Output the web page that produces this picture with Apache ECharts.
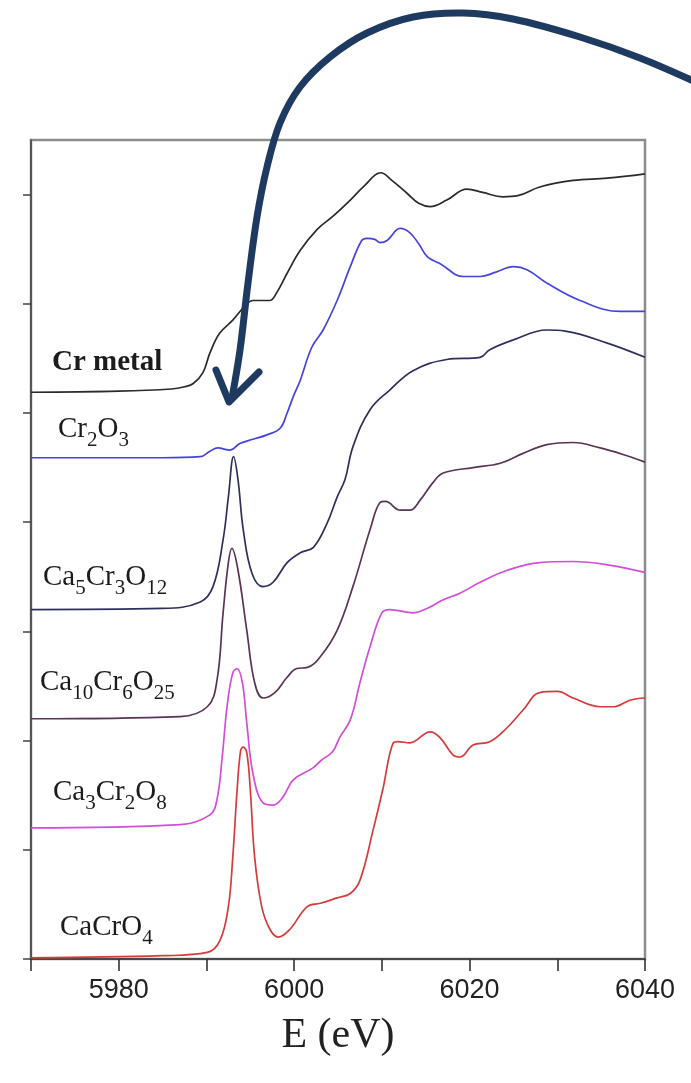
<!DOCTYPE html>
<html>
<head>
<meta charset="utf-8">
<script src="https://cdn.jsdelivr.net/npm/echarts@6/dist/echarts.min.js"></script>
<style>
  html, body { margin: 0; padding: 0; background: #ffffff; }
  #chart { width: 691px; height: 1083px; }
</style>
</head>
<body>
<div id="chart"></div>
<script>
// Cr K-edge XANES spectra, vertically offset (normalized absorption + offset)
const crMetalE = [5970, 5980, 5986, 5987.5, 5988.5, 5989.6, 5990.4, 5991.5, 5993.0, 5994.6, 5995.3, 5997.2, 5998.0, 5999.2, 6000.7, 6002.6, 6004.4, 6006.4, 6008.0, 6009.9, 6011.0, 6012.9, 6014.2, 6015.5, 6017.4, 6019.7, 6021.5, 6023.8, 6025.5, 6028.0, 6031.8, 6035.7, 6040];
const crMetalY = [5.19, 5.20, 5.22, 5.24, 5.27, 5.37, 5.55, 5.73, 5.85, 6.00, 6.03, 6.03, 6.10, 6.28, 6.49, 6.68, 6.80, 6.95, 7.08, 7.20, 7.14, 7.01, 6.92, 6.89, 6.95, 7.05, 7.02, 6.98, 6.99, 7.07, 7.13, 7.15, 7.19];

const cr2o3E = [5970, 5985, 5989.3, 5990.4, 5991.3, 5992.7, 5993.8, 5995.3, 5996.9, 5998.4, 5999.2, 5999.9, 6000.7, 6002.0, 6003.3, 6004.9, 6006.4, 6007.7, 6008.3, 6009.2, 6009.8, 6010.6, 6012.1, 6013.2, 6014.2, 6015.2, 6016.6, 6019.3, 6021.2, 6023.0, 6025.0, 6026.6, 6028.8, 6032.6, 6037.2, 6040];
const cr2o3Y = [4.59, 4.59, 4.60, 4.65, 4.68, 4.66, 4.72, 4.76, 4.80, 4.86, 5.00, 5.15, 5.30, 5.60, 5.76, 6.03, 6.34, 6.58, 6.60, 6.59, 6.56, 6.58, 6.69, 6.65, 6.55, 6.43, 6.37, 6.25, 6.25, 6.29, 6.34, 6.31, 6.19, 6.03, 5.93, 5.93];

const ca5E = [5970, 5985, 5989.3, 5990.75, 5991.9, 5992.5, 5993.1, 5993.6, 5994.2, 5995.2, 5996.45, 5997.6, 5999.2, 6000.7, 6002.2, 6003.75, 6004.9, 6005.8, 6006.7, 6008.65, 6010.9, 6013.6, 6017.4, 6021.2, 6022.3, 6025.0, 6028.8, 6030.9, 6035.7, 6040];
const ca5Y = [3.20, 3.21, 3.27, 3.41, 3.84, 4.23, 4.60, 4.39, 3.93, 3.53, 3.41, 3.45, 3.63, 3.72, 3.77, 3.99, 4.23, 4.39, 4.69, 5.03, 5.21, 5.39, 5.49, 5.51, 5.58, 5.67, 5.76, 5.75, 5.64, 5.51];

const ca10E = [5970, 5987.0, 5990.1, 5991.2, 5991.9, 5992.5, 5992.9, 5993.6, 5994.6, 5995.5, 5996.45, 5997.8, 5999.2, 6000.3, 6001.5, 6003.0, 6004.9, 6006.7, 6008.65, 6009.8, 6010.4, 6012.1, 6013.2, 6014.35, 6015.8, 6017.0, 6020.4, 6023.5, 6026.1, 6028.8, 6031.8, 6034.9, 6037.5, 6040];
const ca10Y = [2.20, 2.22, 2.31, 2.55, 3.17, 3.63, 3.76, 3.56, 3.01, 2.53, 2.39, 2.44, 2.58, 2.66, 2.67, 2.77, 3.01, 3.41, 3.93, 4.18, 4.19, 4.11, 4.11, 4.20, 4.36, 4.45, 4.50, 4.54, 4.63, 4.71, 4.73, 4.68, 4.62, 4.55];

const ca3E = [5970, 5987.0, 5990.4, 5991.2, 5991.8, 5992.35, 5993.0, 5993.5, 5994.1, 5994.6, 5995.3, 5996.45, 5997.6, 5998.7, 5999.9, 6002.15, 6003.1, 6004.4, 6005.2, 6006.4, 6007.5, 6008.65, 6010.0, 6010.9, 6013.55, 6015.15, 6017.0, 6018.9, 6021.2, 6024.3, 6028.0, 6031.8, 6035.7, 6040];
const ca3Y = [1.20, 1.23, 1.32, 1.46, 1.85, 2.31, 2.62, 2.66, 2.53, 2.16, 1.70, 1.43, 1.41, 1.48, 1.64, 1.75, 1.82, 1.90, 2.03, 2.19, 2.53, 2.86, 3.17, 3.20, 3.17, 3.21, 3.29, 3.35, 3.45, 3.56, 3.63, 3.64, 3.61, 3.54];

const cacro4E = [5970, 5985, 5990.1, 5991.55, 5992.5, 5993.0, 5993.5, 5993.9, 5994.2, 5994.6, 5995.0, 5995.5, 5996.3, 5997.25, 5998.2, 5999.5, 6001.5, 6003.0, 6004.9, 6006.4, 6007.5, 6009.0, 6010.1, 6011.3, 6011.8, 6013.2, 6015.5, 6016.6, 6018.1, 6018.9, 6020.4, 6022.3, 6024.3, 6026.1, 6028.0, 6030.0, 6031.8, 6034.9, 6036.4, 6038.3, 6040];
const cacro4Y = [0.01, 0.03, 0.06, 0.17, 0.48, 0.93, 1.55, 1.91, 1.94, 1.89, 1.55, 0.93, 0.48, 0.27, 0.20, 0.27, 0.48, 0.51, 0.56, 0.60, 0.72, 1.18, 1.55, 1.98, 1.99, 1.98, 2.08, 2.03, 1.87, 1.85, 1.96, 1.99, 2.12, 2.28, 2.44, 2.45, 2.39, 2.31, 2.31, 2.37, 2.39];

// Compound labels (rich text: {s|..} marks subscripts)
const compoundLabels = [
  'Cr metal',
  'Cr{s|2}O{s|3}',
  'Ca{s|5}Cr{s|3}O{s|12}',
  'Ca{s|10}Cr{s|6}O{s|25}',
  'Ca{s|3}Cr{s|2}O{s|8}',
  'CaCrO{s|4}'
];
const yTicks = [0, 1, 2, 3, 4, 5, 6, 7];

const zip = (xs, ys) => xs.map((x, i) => [x, ys[i]]);

const spectra = [
  { name: 'Cr metal', e: crMetalE, y: crMetalY, color: '#2b2b2b' },
  { name: 'Cr2O3', e: cr2o3E, y: cr2o3Y, color: '#4444dd' },
  { name: 'Ca5Cr3O12', e: ca5E, y: ca5Y, color: '#2f2f5e' },
  { name: 'Ca10Cr6O25', e: ca10E, y: ca10Y, color: '#5a3457' },
  { name: 'Ca3Cr2O8', e: ca3E, y: ca3Y, color: '#d24ed6' },
  { name: 'CaCrO4', e: cacro4E, y: cacro4Y, color: '#d63b3b' }
];

// label placement: [left x, vertical centre of main text]
const labelPos = [[52, 363], [58, 429], [43, 577], [40, 682], [53, 792], [60, 927]];

const serif = '"Liberation Serif", "Times New Roman", serif';

const labelGraphics = compoundLabels.map((t, i) => ({
  type: 'text',
  x: labelPos[i][0],
  y: labelPos[i][1],
  z: 50,
  style: {
    text: t,
    fill: '#1c1c1c',
    fontFamily: serif,
    fontSize: 29,
    fontWeight: i === 0 ? 'bold' : 'normal',
    align: 'left',
    verticalAlign: 'middle',
    rich: {
      s: {
        fontFamily: serif,
        fontSize: 21,
        fill: '#1c1c1c',
        verticalAlign: 'middle',
        padding: [22, 0, 0, 0]
      }
    }
  }
}));

// Curved pointer arrow drawn over the plot
const arrowShaft = [[700, 84], [640, 58], [580, 37], [513, 19], [463, 13], [413, 17], [367, 33], [330, 57], [300, 87], [280, 123], [267, 167], [257, 217], [248, 283], [240, 350], [232, 398]];
const arrowHead = [[216, 370], [229, 402], [259, 372]];

const chart = echarts.init(document.getElementById('chart'), null, { renderer: 'canvas' });

chart.setOption({
  animation: false,
  backgroundColor: '#ffffff',
  grid: {
    left: 31, right: 46, top: 140, bottom: 124,
    show: true,
    borderColor: '#8c8c8c',
    borderWidth: 2.5
  },
  xAxis: {
    type: 'value',
    min: 5970, max: 6040, interval: 10,
    axisLine: { show: true, onZero: false, lineStyle: { color: '#333', width: 1.6 } },
    axisTick: { show: true, inside: false, length: 12, lineStyle: { color: '#333', width: 1.6 } },
    axisLabel: {
      margin: 18,
      fontFamily: '"Liberation Sans", Arial, sans-serif',
      fontSize: 27,
      color: '#222',
      formatter: v => (v % 20 === 0 ? String(v) : '')
    },
    splitLine: { show: false },
    name: 'E (eV)',
    nameLocation: 'middle',
    nameGap: 56,
    nameTextStyle: { fontFamily: serif, fontSize: 42, color: '#222' }
  },
  yAxis: {
    type: 'value',
    min: 0, max: 7.5, interval: 1,
    axisLine: { show: true, onZero: false, lineStyle: { color: '#444', width: 1.5 } },
    axisTick: { show: true, inside: false, length: 8, customValues: yTicks, lineStyle: { color: '#444', width: 1.5 } },
    axisLabel: { show: false },
    splitLine: { show: false }
  },
  series: spectra.map(s => ({
    name: s.name,
    type: 'line',
    data: zip(s.e, s.y),
    showSymbol: false,
    smooth: 0.4,
    lineStyle: { color: s.color, width: 1.7 },
    itemStyle: { color: s.color },
    z: 3
  })),
  graphic: labelGraphics.concat([
    {
      type: 'polyline',
      z: 100,
      shape: { points: arrowShaft, smooth: 0.35 },
      style: { stroke: '#1f3a60', lineWidth: 7, fill: null, lineCap: 'round', lineJoin: 'round' }
    },
    {
      type: 'polyline',
      z: 100,
      shape: { points: arrowHead },
      style: { stroke: '#1f3a60', lineWidth: 7, fill: null, lineCap: 'round', lineJoin: 'round' }
    }
  ])
});
</script>
</body>
</html>
